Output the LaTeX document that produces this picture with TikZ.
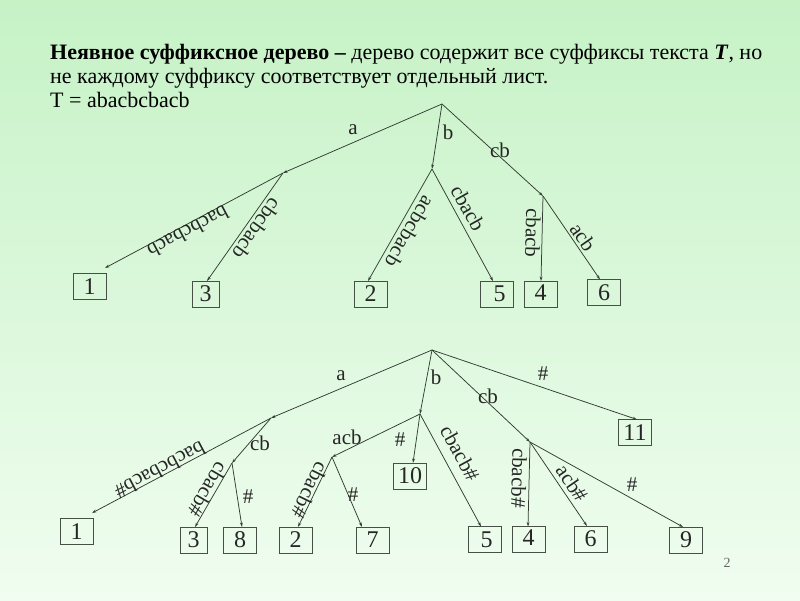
\documentclass[tikz,border=0pt]{standalone}
\usepackage{fontspec}
\setmainfont{Liberation Serif}
\usetikzlibrary{arrows.meta}
\definecolor{linecol}{RGB}{50,60,50}
\definecolor{boxcol}{RGB}{70,80,70}
\definecolor{bgtop}{RGB}{198,242,198}
\definecolor{bgbot}{RGB}{240,253,240}
\begin{document}
\begin{tikzpicture}[x=1pt,y=-1pt,
  edge/.style={draw=linecol, line width=0.75pt, -{Stealth[length=4.5pt,width=2.8pt]}},
  leaf/.style={draw=boxcol, line width=0.75pt, minimum width=33pt, minimum height=26pt, inner sep=0pt, font=\fontsize{24}{24}\selectfont, text=black!85},
  narrow/.style={minimum width=27pt},
  lbl/.style={font=\fontsize{21}{21}\selectfont, inner sep=0pt, text=black!85},
  title/.style={anchor=base west, inner sep=0pt, font=\fontsize{22}{22}\selectfont, text=black}
]
\useasboundingbox (0,0) rectangle (800,600);
\shade[top color=bgtop, bottom color=bgbot] (0,0) rectangle (800,600);

% title
\node[title] (t1) at (50,59) {\textbf{Неявное суффиксное дерево –} дерево содержит все суффиксы текста \textbf{\textit{T}}, но};
\node[title] (t2) at (50,83) {не каждому суффиксу соответствует отдельный лист.};
\node[title] (t3) at (50,107) {T = abacbcbacb};

% ---------- tree 1 ----------
\coordinate (R1) at (442,104);
\coordinate (A1) at (283,173);
\coordinate (B1) at (432,169);
\coordinate (C1) at (543,196);
\node[leaf] (L1a) at (89.5,286.5) {1\hspace{10pt}};
\node[leaf, narrow] (L1b) at (205.5,294) {3};
\node[leaf] (L1c) at (370.5,294) {2};
\node[leaf] (L1d) at (496.5,294) {\hspace{6pt}5};
\node[leaf] (L1e) at (540.5,294) {\raisebox{3pt}{4}\hspace{8pt}};
\node[leaf] (L1f) at (604,292.5) {6\hspace{2pt}};
\coordinate (P1a) at (105,268);
\coordinate (P1b) at (207,281);
\coordinate (P1c) at (368,281);
\coordinate (P1d) at (493,281);
\coordinate (P1e) at (541,281);
\coordinate (P1f) at (600,279.5);

\draw[edge] (R1) -- (A1);
\draw[edge] (R1) -- (B1);
\draw[edge] (R1) -- (C1);
\draw[edge] (A1) -- (P1a);
\draw[edge] (A1) -- (P1b);
\draw[edge] (B1) -- (P1c);
\draw[edge] (B1) -- (P1d);
\draw[edge] (C1) -- (P1e);
\draw[edge] (C1) -- (P1f);

\node[lbl] (e1a) at (353,130) {a};
\node[lbl] (e1b) at (448,132) {b};
\node[lbl] (e1c) at (500,150) {cb};
\node[lbl, rotate=208] (e1d) at (188,232) {bacbcbacb};
\node[lbl, rotate=234.6] (e1e) at (257,229) {cbcbacb};
\node[lbl, rotate=239.6] (e1f) at (410,232) {acbcbacb};
\node[lbl, rotate=-60.8] (e1g) at (468,208) {cbacb};
\node[lbl, rotate=-91.4] (e1h) at (533,233) {cbacb};
\node[lbl, rotate=-55.2] (e1i) at (583,237) {acb};

% ---------- tree 2 ----------
\coordinate (R2) at (432,350);
\coordinate (A2) at (271,418);
\coordinate (B2) at (420,414);
\coordinate (C2) at (530,442);
\coordinate (D2) at (232,463);
\coordinate (E2) at (332,457);
\node[leaf] (L2a) at (76.5,531.5) {1\hspace{10pt}};
\node[leaf, narrow] (L2b) at (193.5,540) {3};
\node[leaf] (L2c) at (240,540) {8};
\node[leaf] (L2d) at (295.5,540) {2};
\node[leaf] (L2e) at (372.5,540) {7};
\node[leaf] (L2f) at (410,476) {10};
\node[leaf] (L2g) at (484.5,539.5) {\hspace{4pt}5};
\node[leaf] (L2h) at (528.5,539.5) {\raisebox{3pt}{4}\hspace{8pt}};
\node[leaf] (L2i) at (590.5,539) {6};
\node[leaf] (L2j) at (686,540) {9\hspace{2pt}};
\node[leaf] (L2k) at (635,432.5) {11};
\coordinate (P2a) at (92,513);
\coordinate (P2b) at (195,527);
\coordinate (P2c) at (242,527);
\coordinate (P2d) at (298,527);
\coordinate (P2e) at (362,527);
\coordinate (P2f) at (413,463);
\coordinate (P2g) at (481,526.5);
\coordinate (P2h) at (528,526.5);
\coordinate (P2i) at (587,526);
\coordinate (P2j) at (683,527);
\coordinate (P2k) at (637,419.5);

\draw[edge] (R2) -- (A2);
\draw[edge] (R2) -- (B2);
\draw[edge] (R2) -- (C2);
\draw[edge] (R2) -- (P2k);
\draw[edge] (A2) -- (P2a);
\draw[edge] (A2) -- (D2);
\draw[edge] (D2) -- (P2b);
\draw[edge] (D2) -- (P2c);
\draw[edge] (B2) -- (E2);
\draw[edge] (E2) -- (P2d);
\draw[edge] (E2) -- (P2e);
\draw[edge] (B2) -- (P2f);
\draw[edge] (B2) -- (P2g);
\draw[edge] (C2) -- (P2h);
\draw[edge] (C2) -- (P2i);
\draw[edge] (C2) -- (P2j);

\node[lbl] (e2a) at (341,376) {a};
\node[lbl] (e2b) at (436,377) {b};
\node[lbl] (e2c) at (488,396) {cb};
\node[lbl] (e2d) at (543,374) {\#};
\node[lbl] (e2e) at (260,443) {cb};
\node[lbl] (e2f) at (347,437) {acb};
\node[lbl] (e2g) at (400,440) {\#};
\node[lbl] (e2h) at (248,497) {\#};
\node[lbl] (e2i) at (353,495) {\#};
\node[lbl] (e2j) at (632,485) {\#};
\node[lbl, rotate=208] (e2k) at (160,470) {bacbcbacb\#};
\node[lbl, rotate=239.6] (e2l) at (208,490) {cbacb\#};
\node[lbl, rotate=243.8] (e2m) at (310,490) {cbacb\#};
\node[lbl, rotate=-61.2] (e2n) at (460,453) {cbacb\#};
\node[lbl, rotate=-91.4] (e2o) at (519,478) {cbacb\#};
\node[lbl, rotate=-55.2] (e2p) at (572,483) {acb\#};

\node[font=\fontsize{14}{14}\selectfont, text=black!60] (pg) at (727,563) {2};
\end{tikzpicture}
\end{document}
